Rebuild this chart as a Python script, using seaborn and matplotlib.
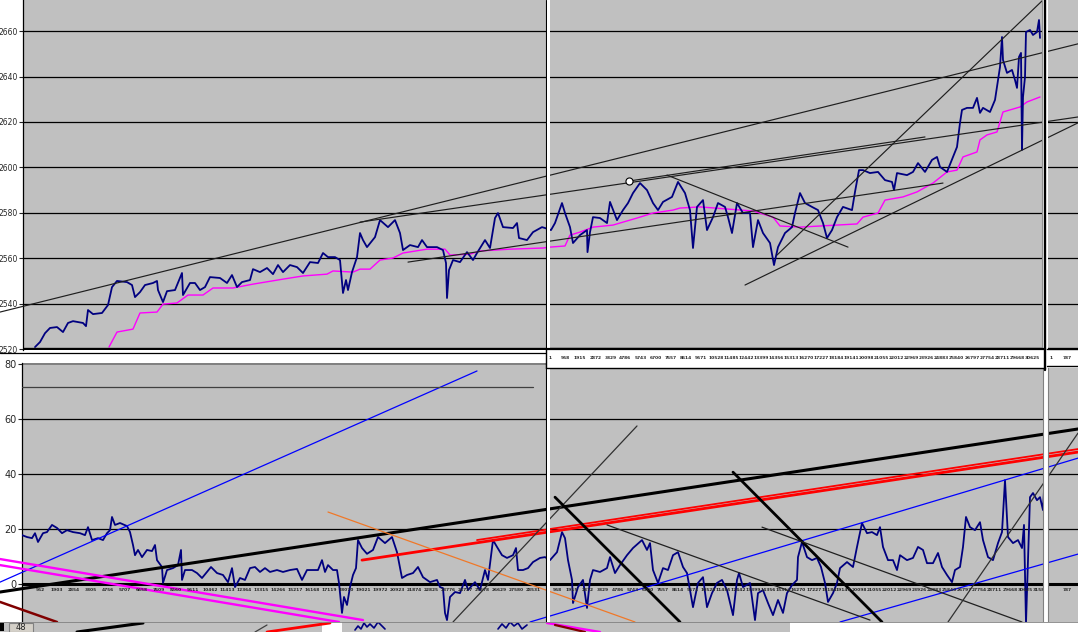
"""Tiled intraday chart window: price pane with moving average over an oscillator pane."""
import matplotlib
matplotlib.use("Agg")
import matplotlib.pyplot as plt
import numpy as np
import seaborn as sns
from matplotlib.lines import Line2D
from matplotlib.patches import Rectangle

W, H = 1078, 632
GRAY = '#c0c0c0'
NAVY = '#000080'
MAGENTA = '#ff00ff'

# ---- price pane ----
price_t = [35, 40, 45, 50, 57, 63, 68, 73, 83, 86, 88, 93, 102, 108, 112, 117, 127, 132, 135, 140,
           145, 153, 157, 158, 163, 167, 175, 182, 183, 190, 195, 200, 205, 210, 220, 227, 232, 237,
           242, 250, 253, 260, 267, 273, 278, 283, 290, 297, 303, 310, 318, 323, 328, 335, 340, 343,
           346, 348, 352, 357, 360, 363, 367, 375, 380, 388, 395, 400, 403, 410, 418, 422, 427, 437,
           443, 446, 447, 449, 453, 460, 467, 473, 477, 485, 490, 495, 498, 503, 513, 517, 519, 527,
           533, 542, 545, 551, 555, 562, 565, 570, 573, 580, 587, 587.5, 590, 593, 600, 607, 610, 617,
           623, 628, 633, 640, 647, 653, 658, 663, 672, 678, 685, 690, 693, 697, 703, 707, 713, 718,
           725, 728, 732, 737, 743, 750, 753, 758, 763, 770, 774, 778, 785, 792, 795, 800, 805, 812,
           818, 823, 827, 832, 837, 843, 852, 855, 859, 863, 870, 878, 885, 892, 894, 897, 907, 913,
           918, 925, 932, 937, 940, 947, 953, 957, 960, 962, 967, 973, 977, 980, 983, 990, 995, 998,
           1000, 1002, 1003, 1007, 1012, 1015, 1017, 1019, 1021, 1022, 1023, 1025, 1026, 1030, 1033,
           1037, 1039, 1040]
price = [2520.9, 2523.1, 2527.0, 2529.3, 2529.7, 2527.5, 2531.5, 2532.3, 2531.5, 2530.1, 2537.2,
         2535.4, 2535.9, 2539.4, 2547.3, 2550.0, 2549.5, 2548.2, 2542.9, 2545.1, 2548.2, 2549.1,
         2550.0, 2546.0, 2540.7, 2545.5, 2546.0, 2553.5, 2543.8, 2549.1, 2549.1, 2546.0, 2547.3,
         2551.7, 2551.3, 2549.1, 2552.6, 2547.3, 2549.5, 2550.4, 2555.2, 2553.9, 2555.7, 2553.0,
         2557.0, 2553.9, 2557.0, 2556.1, 2553.5, 2558.3, 2557.9, 2562.3, 2560.5, 2560.5, 2559.2,
         2544.7, 2550.4, 2546.0, 2553.9, 2560.5, 2571.1, 2568.0, 2564.9, 2569.3, 2576.8, 2573.7,
         2576.8, 2571.1, 2563.6, 2565.8, 2564.9, 2568.0, 2564.9, 2564.9, 2563.6, 2557.9, 2542.5,
         2554.8, 2559.2, 2558.3, 2562.7, 2559.2, 2562.3, 2568.0, 2564.5, 2577.7, 2579.9, 2573.7,
         2573.3, 2575.5, 2568.9, 2568.0, 2571.5, 2573.7, 2573.3, 2572.4, 2575.5, 2584.3, 2579.9,
         2573.7, 2566.7, 2570.2, 2572.4, 2562.7, 2571.5, 2578.1, 2577.7, 2575.5, 2584.8, 2576.8,
         2581.2, 2584.3, 2588.7, 2593.1, 2590.0, 2584.3, 2581.2, 2584.8, 2587.0, 2593.6, 2588.7,
         2581.2, 2564.5, 2582.6, 2585.6, 2572.4, 2578.1, 2584.3, 2582.6, 2578.1, 2571.1, 2584.3,
         2579.9, 2579.9, 2564.9, 2576.8, 2571.1, 2566.7, 2557.0, 2564.9, 2571.1, 2573.7, 2579.9,
         2588.7, 2584.3, 2582.6, 2581.2, 2575.5, 2568.9, 2572.4, 2578.1, 2582.6, 2581.2, 2589.2,
         2598.8, 2598.8, 2597.5, 2598.0, 2594.4, 2593.6, 2590.0, 2597.5, 2596.6, 2598.0, 2601.9,
         2598.0, 2603.3, 2604.6, 2600.2, 2598.0, 2604.6, 2609.0, 2619.6, 2625.3, 2626.2, 2626.2,
         2630.6, 2624.0, 2626.2, 2624.4, 2629.7, 2638.5, 2644.2, 2657.4, 2647.3, 2641.6, 2642.9,
         2638.5, 2635.0, 2648.6, 2650.4, 2607.7, 2631.0, 2639.8, 2659.6, 2660.5, 2658.3, 2659.6,
         2664.9, 2657.0]

avg_t = [109, 117, 133, 140, 157, 163, 177, 188, 203, 213, 233, 253, 283, 303, 327, 333, 353, 360,
         370, 380, 393, 403, 427, 445, 450, 470, 480, 510, 543, 550, 565, 570, 580, 593, 613, 623,
         637, 653, 673, 680, 700, 753, 773, 780, 800, 857, 863, 878, 885, 903, 917, 933, 947, 957,
         963, 977, 980, 987, 997, 1003, 1020, 1027, 1040]
avg = [2520.9, 2527.5, 2528.8, 2535.9, 2536.3, 2539.8, 2540.3, 2543.8, 2543.8, 2546.9, 2546.9,
       2548.6, 2550.8, 2552.2, 2553.0, 2554.4, 2553.9, 2555.2, 2555.2, 2559.2, 2560.1, 2562.3,
       2564.0, 2564.0, 2561.4, 2561.8, 2563.2, 2564.0, 2564.5, 2564.9, 2565.4, 2570.2, 2571.5,
       2573.7, 2574.6, 2575.9, 2577.7, 2579.9, 2581.2, 2582.1, 2582.6, 2580.8, 2578.1, 2574.2,
       2573.7, 2575.1, 2578.1, 2579.9, 2585.6, 2587.0, 2589.2, 2593.1, 2598.0, 2598.8, 2604.6,
       2606.8, 2612.1, 2614.3, 2615.6, 2624.4, 2626.6, 2628.8, 2631.0]

price_ticks = [2520, 2540, 2560, 2580, 2600, 2620, 2640, 2660]

# trend lines drawn on the price pane: (t0, price0, t1, price1)
price_lines = [
    (0, 2536.3, 1078, 2654.4),
    (360, 2575.9, 1078, 2622.2),
    (629, 2594.0, 925, 2613.4),
    (408, 2558.3, 943, 2593.1),
    (745, 2548.2, 1078, 2619.6),
    (777, 2561.4, 1043, 2673.7),
    (667, 2596.6, 848, 2564.9),
]
anchor_t = [629]
anchor_price = [2594.0]

# ---- oscillator pane ----
osc_t = [22, 27, 32, 35, 38, 43, 47, 52, 57, 62, 67, 73, 80, 85, 88, 92, 98, 103, 107, 110, 112,
         115, 120, 127, 130, 133, 135, 138, 142, 147, 152, 155, 157, 162, 163, 167, 173, 178, 181,
         182, 185, 192, 197, 202, 207, 211, 217, 223, 228, 232, 235, 240, 245, 250, 255, 260, 265,
         270, 277, 283, 290, 297, 302, 307, 313, 318, 322, 325, 328, 333, 337, 339, 342, 344, 347,
         350, 353, 356, 358, 362, 367, 373, 378, 385, 392, 397, 402, 407, 413, 418, 423, 430, 437,
         440, 443, 445, 447, 450, 455, 460, 465, 468, 475, 480, 485, 488, 493, 497, 502, 507, 513,
         516, 518, 523, 528, 533, 540, 545, 550, 557, 562, 565, 568, 572, 573, 578, 583, 587, 590,
         593, 600, 607, 610, 615, 620, 627, 633, 642, 647, 650, 653, 658, 663, 668, 673, 678, 683,
         687, 690, 693, 698, 703, 707, 712, 717, 722, 727, 733, 737, 739, 743, 750, 755, 758, 763,
         768, 773, 778, 783, 787, 792, 797, 798, 802, 807, 812, 817, 821, 825, 828, 833, 837, 840,
         847, 853, 857, 862, 867, 872, 877, 880, 883, 888, 893, 897, 900, 907, 913, 918, 923, 927,
         933, 938, 942, 947, 952, 955, 960, 963, 966, 970, 975, 980, 983, 988, 993, 998, 1002, 1005,
         1008, 1013, 1018, 1022, 1024, 1026, 1028, 1030, 1033, 1037, 1040, 1043, 1044]
osc = [17.8, 17.1, 16.7, 18.5, 15.3, 18.5, 18.9, 21.5, 20.4, 18.5, 19.6, 18.9, 18.5, 17.8, 20.7,
       16.0, 16.7, 16.0, 18.5, 19.6, 24.4, 21.5, 22.2, 21.1, 18.9, 14.2, 10.5, 12.4, 9.8, 12.4, 12.0,
       14.2, 8.7, 6.2, 0.4, 5.1, 5.8, 6.9, 12.4, 1.5, 5.1, 5.1, 4.0, 2.2, 4.4, 6.2, 4.0, 3.3, 0.7,
       5.8, -1.1, 2.2, 1.5, 5.8, 6.2, 4.4, 5.8, 4.4, 5.1, 4.4, 5.1, 5.5, 1.5, 5.1, 5.1, 5.1, 8.7,
       4.4, 6.9, 5.1, 5.1, 0.4, -10.5, -4.7, -7.6, -1.1, 3.3, 5.8, 16.0, 13.1, 11.0, 12.4, 17.1,
       14.9, 17.1, 11.6, 2.2, 3.3, 4.0, 6.2, 2.5, 0.7, 1.5, -1.1, -1.5, -10.5, -13.1, -4.7, -2.9,
       -3.3, 1.5, -2.2, 0.7, -2.2, 5.1, 1.5, 16.0, 13.5, 10.5, 9.5, 10.5, 13.1, 5.1, 5.1, 5.8, 8.0,
       9.5, 9.8, 8.7, 11.6, 18.9, 16.7, 8.7, 1.5, -6.9, -1.1, 1.5, -8.7, 1.5, 5.1, 4.4, 5.8, 9.8,
       4.0, 6.9, 10.5, 13.1, 16.0, 12.4, 14.9, 5.1, 0.4, 5.8, 5.1, 10.5, 11.6, 6.2, 4.0, -2.2, -8.4,
       0.4, 2.5, -8.4, -3.3, 0.4, 1.5, -2.2, -11.3, 1.5, 4.0, -1.1, 0.4, -13.1, -3.3, -2.2, -6.9,
       -11.3, -5.8, -10.5, -3.3, -0.4, 1.5, 9.8, 15.3, 9.8, 8.7, 9.5, 6.2, 0.4, -6.5, -3.3, 0.4,
       5.8, 8.0, 6.2, 13.5, 22.2, 18.5, 18.9, 17.8, 20.7, 13.5, 8.7, 8.7, 5.1, 10.5, 8.7, 9.5,
       13.5, 12.4, 7.6, 7.6, 11.3, 6.2, 3.3, 0.7, 5.1, 6.2, 13.5, 24.4, 20.7, 19.6, 22.5, 16.0,
       9.8, 8.7, 14.9, 18.9, 37.8, 17.1, 14.9, 16.0, 13.1, 21.5, -14.2, 8.7, 31.6, 33.1, 30.5,
       31.6, 26.9, 34.2]

osc_ticks = [0, 20, 40, 60, 80]

osc_lines = [
    (0, -2.9, 1078, 56.4),
    (362, 8.7, 1078, 48.0),
    (477, 16.0, 1078, 49.1),
    (0, 0.7, 477, 77.5),
    (530, -13.8, 1078, 45.8),
    (840, -13.8, 1078, 10.9),
    (328, 26.2, 635, -13.8),
    (453, -13.8, 637, 57.5),
    (555, 31.6, 680, -13.8),
    (733, 40.7, 882, -13.8),
    (607, 21.5, 870, -13.1),
    (762, 20.7, 1022, -13.8),
    (948, -13.8, 1078, 54.9),
    (0, 9.1, 363, -13.1),
    (0, 6.9, 339, -13.8),
    (0, -6.5, 57, -13.8),
    (22, 71.6, 533, 71.6),
]
osc_line_styles = [
    dict(color='black', lw=2.2),
    dict(color='#ff0000', lw=2.0),
    dict(color='#ff0000', lw=1.3),
    dict(color='#0000ff', lw=0.9),
    dict(color='#0000ff', lw=0.9),
    dict(color='#0000ff', lw=0.9),
    dict(color='#f07828', lw=0.9),
    dict(color='#303030', lw=0.9),
    dict(color='black', lw=2.0),
    dict(color='black', lw=2.0),
    dict(color='#202020', lw=0.9),
    dict(color='#202020', lw=0.9),
    dict(color='#303030', lw=0.9),
    dict(color=MAGENTA, lw=1.7),
    dict(color=MAGENTA, lw=1.7),
    dict(color='#800000', lw=1.8),
    dict(color='#404040', lw=0.9),
]

# ---- bar-number labels ----
left_bar_labels = ['952', '1903', '2854', '3805', '4756', '5707', '6658', '7609', '8560', '9511',
                   '10462', '11413', '12364', '13315', '14266', '15217', '16168', '17119', '18070',
                   '19021', '19972', '20923', '21874', '22825', '23776', '24727', '25678', '26629',
                   '27580', '28531']
mid_bar_labels = ['1', '958', '1915', '2872', '3829', '4786', '5743', '6700', '7657', '8614', '9571',
                  '10528', '11485', '12442', '13399', '14356', '15313', '16270', '17227', '18184',
                  '19141', '20098', '21055', '22012', '22969', '23926', '24883', '25840', '26797',
                  '27754', '28711', '29668', '30625']
mid_osc_labels = ['958', '1915', '2872', '3829', '4786', '5743', '6700', '7657', '8614', '9571',
                  '10528', '11485', '12442', '13399', '14356', '15313', '16270', '17227', '18184',
                  '19141', '20098', '21055', '22012', '22969', '23926', '24883', '25840', '26797',
                  '27754', '28711', '29668', '30625', '31582']
right_bar_labels = ['1', '787']

# ---- strip of the next window below ----
strip_lines = [(77, 0, 143, 9), (255, 0, 267, 7), (267, 0, 330, 9), (547, 9, 600, 0), (555, 7, 585, 0)]
strip_line_styles = [dict(color='black', lw=2.2), dict(color='#404040', lw=0.9),
                     dict(color='#ff0000', lw=2.0), dict(color=MAGENTA, lw=1.7),
                     dict(color='#800000', lw=1.6)]
strip_t = [355, 358, 361, 364, 367, 370, 374, 378, 382, 385]
strip_v = [2, 6, 3, 9, 5, 8, 4, 10, 6, 3]
strip2_t = [498, 502, 506, 510, 514, 518, 522, 527]
strip2_v = [3, 8, 4, 10, 6, 9, 3, 7]


sns.set_style('white')
plt.rcParams['font.family'] = ['DejaVu Sans']


def frac_rect(x0, y0, x1, y1):
    return [x0 / W, 1 - y1 / H, (x1 - x0) / W, (y1 - y0) / H]


def fig_line(x0, y0, x1, y1, **kw):
    fig.add_artist(Line2D([x0 / W, x1 / W], [1 - y0 / H, 1 - y1 / H],
                          transform=fig.transFigure, **kw))


fig = plt.figure(figsize=(W / 100, H / 100), dpi=100, facecolor='white')
ax_p = fig.add_axes(frac_rect(23, 0, W, 350))
ax_o = fig.add_axes(frac_rect(22, 363, W, 622))
ax_s = fig.add_axes(frac_rect(0, 622, W, H))

# price pane
ax_p.set_facecolor(GRAY)
ax_p.set_xlim(23, W)
ax_p.set_ylim(2519.6, 2673.7)
for v in price_ticks[1:]:
    ax_p.axhline(v, color='black', lw=0.9, zorder=1)
ax_p.axhline(price_ticks[0], color='black', lw=2.4, zorder=4)
sns.lineplot(x=avg_t, y=avg, sort=False, estimator=None, color=MAGENTA, linewidth=1.0,
             ax=ax_p, zorder=2)
sns.lineplot(x=price_t, y=price, sort=False, estimator=None, color=NAVY, linewidth=1.3,
             ax=ax_p, zorder=3)
for t0, v0, t1, v1 in price_lines:
    ax_p.plot([t0, t1], [v0, v1], color='#1e1e1e', lw=0.85, zorder=4, clip_on=(t0 > 0))
sns.scatterplot(x=anchor_t, y=anchor_price, s=26, color='white', edgecolor='black',
                linewidth=0.8, ax=ax_p, zorder=5)
ax_p.set_yticks(price_ticks)
ax_p.set_yticklabels([str(v) for v in price_ticks])
ax_p.set_xticks([])
ax_p.tick_params(axis='y', length=3, width=0.8, labelsize=5.5, pad=1, left=True)
for side in ['top', 'right', 'bottom']:
    ax_p.spines[side].set_visible(False)
ax_p.spines['left'].set_color('black')
ax_p.spines['left'].set_linewidth(0.9)
ax_p.set_xlabel('')
ax_p.set_ylabel('')

# oscillator pane
ax_o.set_facecolor(GRAY)
ax_o.set_xlim(22, W)
ax_o.set_ylim(-13.8, 80.4)
for v in osc_ticks[1:-1]:
    ax_o.axhline(v, color='black', lw=0.9, zorder=1)
ax_o.axhline(osc_ticks[0], color='black', lw=2.2, zorder=1)
ax_o.axhline(osc_ticks[-1], color='#808080', lw=1.4, zorder=1)
sns.lineplot(x=osc_t, y=osc, sort=False, estimator=None, color=NAVY, linewidth=1.3,
             ax=ax_o, zorder=3)
for (t0, v0, t1, v1), style in zip(osc_lines, osc_line_styles):
    ax_o.plot([t0, t1], [v0, v1], zorder=4, clip_on=(t0 > 0), **style)
ax_o.set_yticks(osc_ticks)
ax_o.set_yticklabels([str(v) for v in osc_ticks])
ax_o.set_xticks([])
ax_o.tick_params(axis='y', length=3, width=0.8, labelsize=7, pad=1, left=True)
for side in ['top', 'right', 'bottom']:
    ax_o.spines[side].set_visible(False)
ax_o.spines['left'].set_color('black')
ax_o.spines['left'].set_linewidth(0.9)
ax_o.set_xlabel('')
ax_o.set_ylabel('')

tick_font = dict(fontsize=3.2, fontweight='bold', ha='center', va='center', zorder=6)
for t, lab in zip(np.linspace(40, 533, len(left_bar_labels)), left_bar_labels):
    ax_o.text(t, -2.3, lab, **tick_font)
for t, lab in zip(np.linspace(557, 1040, len(mid_osc_labels)), mid_osc_labels):
    ax_o.text(t, -2.3, lab, **tick_font)
ax_o.text(1067, -2.3, right_bar_labels[1], **tick_font)

# pane separators
for ax in (ax_p, ax_o):
    ax.axvline(546, color='black', lw=0.8, zorder=7)
    ax.axvspan(547, 550, color='white', lw=0, zorder=7)
ax_p.axvspan(1042, 1048, color='white', lw=0, zorder=7)
ax_p.axvline(1045.2, color='black', lw=1.7, zorder=8)
ax_p.axvline(1041.5, color='#909090', lw=0.8, zorder=8)
ax_o.axvspan(1042.5, 1047.5, color='white', lw=0, zorder=7)
ax_o.axvline(1042.5, color='#808080', lw=0.8, zorder=8)
ax_o.axvline(1047.5, color='#808080', lw=0.8, zorder=8)

# strip of the next window
ax_s.set_facecolor(GRAY)
ax_s.set_xlim(0, W)
ax_s.set_ylim(0, 10)
ax_s.set_xticks([])
ax_s.set_yticks([])
for side in ax_s.spines:
    ax_s.spines[side].set_visible(False)
ax_s.axvspan(790, W, color='white', lw=0)
ax_s.axvspan(322, 342, color='white', lw=0)
for (t0, v0, t1, v1), style in zip(strip_lines, strip_line_styles):
    ax_s.plot([t0, t1], [v0, v1], **style)
sns.lineplot(x=strip_t, y=strip_v, sort=False, estimator=None, color=NAVY, linewidth=1.2, ax=ax_s)
sns.lineplot(x=strip2_t, y=strip2_v, sort=False, estimator=None, color=NAVY, linewidth=1.2, ax=ax_s)
ax_s.axhline(9.8, color='#808080', lw=1.2)
ax_s.add_patch(Rectangle((0, 1), 4, 8, facecolor='black', lw=0))
ax_s.add_patch(Rectangle((9, 0.3), 24, 9, facecolor='#d4d0c8', edgecolor='#808080', lw=0.8))
ax_s.text(21, 4.8, '48', fontsize=6, ha='center', va='center')
ax_s.set_xlabel('')
ax_s.set_ylabel('')

# label bands and panel borders
fig_line(0, 353, 546, 353, color='black', lw=0.9)
fig.add_artist(Rectangle((546 / W, 1 - 368 / H), (1045 - 546) / W, 18 / H, facecolor='white',
                         edgecolor='none', transform=fig.transFigure, zorder=3))
fig.add_artist(Rectangle((1047 / W, 1 - 368 / H), (W - 1047) / W, 18 / H, facecolor='white',
                         edgecolor='none', transform=fig.transFigure, zorder=3))
fig_line(546, 349, 1045, 349, color='black', lw=1.6, zorder=4)
fig_line(546, 368, 1045, 368, color='black', lw=1.0, zorder=4)
fig_line(546, 349, 546, 368, color='black', lw=1.0, zorder=4)
fig_line(1047, 349, W, 349, color='black', lw=1.0, zorder=4)
fig_line(1047, 366, W, 366, color='black', lw=1.0, zorder=4)
fig_line(1045.2, 349, 1045.2, 370, color='black', lw=1.7, zorder=4)
for x, lab in zip(np.linspace(550, 1032, len(mid_bar_labels)), mid_bar_labels):
    fig.text(x / W, 1 - 358 / H, lab, fontsize=3.2, fontweight='bold', ha='center', va='center',
             zorder=5)
for x, lab in zip([1051, 1067], right_bar_labels):
    fig.text(x / W, 1 - 358 / H, lab, fontsize=3.2, fontweight='bold', ha='center', va='center',
             zorder=5)

fig.savefig('out.png', dpi=100)
